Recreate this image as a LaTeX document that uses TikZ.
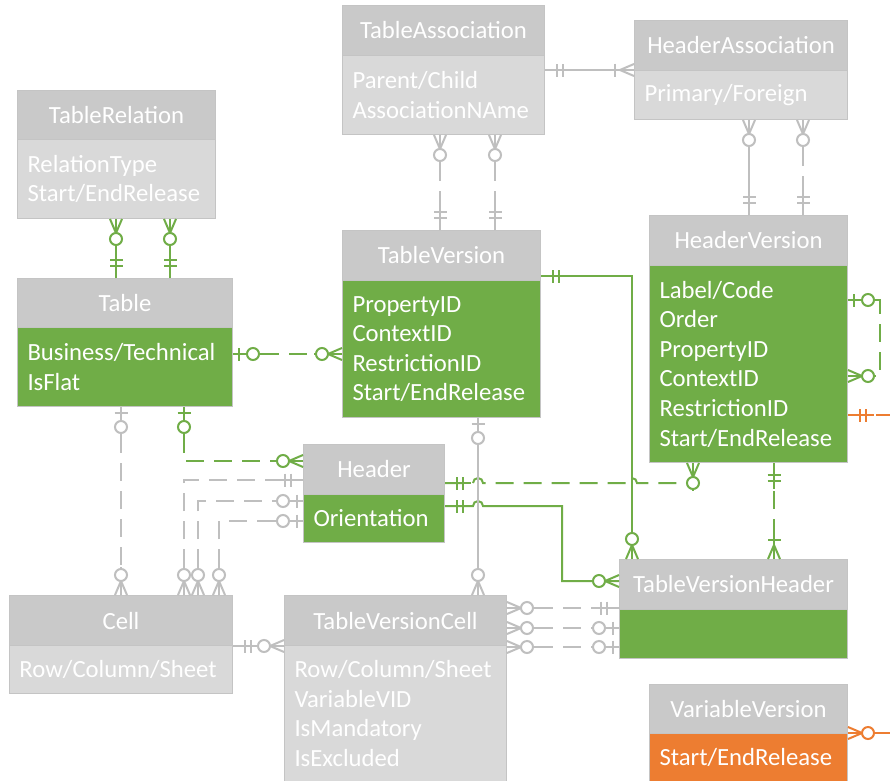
\documentclass[tikz,border=0pt]{standalone}
\usepackage{fontspec}
\setmainfont{Carlito}
\usetikzlibrary{calc}
\definecolor{grn}{HTML}{70AD47}
\definecolor{org}{HTML}{ED7D31}
\definecolor{hgray}{HTML}{C9C9C9}
\definecolor{bgray}{HTML}{D9D9D9}
\definecolor{lgr}{HTML}{BFBFBF}
\definecolor{bdr}{HTML}{C4C4C4}
\tikzset{
  erfont/.style={font=\fontsize{24.7}{29.6}\selectfont, text=white},
  hbox/.style={erfont, draw=bdr, line width=1pt, fill=hgray, inner sep=0pt},
  bbox/.style={erfont, draw=bdr, line width=1pt, inner xsep=10pt, inner ysep=0pt, align=left},
  gl/.style={draw=grn, line width=2pt},
  gy/.style={draw=lgr, line width=2pt},
  og/.style={draw=org, line width=2pt},
  dsh/.style={dash pattern=on 18pt off 10pt},
}
% entity: name, x1, ytop, x2, ymid, ybot, body colour, title, body lines
\newcommand\erEnt[9]{%
  \pgfmathsetmacro\erW{#4-#2}%
  \pgfmathsetmacro\erHa{#5-#3}%
  \pgfmathsetmacro\erHb{#6-#5}%
  \pgfmathsetmacro\erTW{#4-#2-20}%
  \node[hbox, minimum width=\erW pt, minimum height=\erHa pt, anchor=north west] (#1h) at (#2,#3) {#8};
  \node[bbox, fill=#7, minimum width=\erW pt, minimum height=\erHb pt, text width=\erTW pt, anchor=north west] (#1b) at (#2,#5) {#9};
}
% markers: style, point, direction away from the box
\newcommand\erZM[3]{\begin{scope}[shift={#2},rotate=#3]
  \draw[#1,solid] (0,0)--(28,0);
  \draw[#1,solid] (0,6)--(14,0)--(0,-6);
  \draw[#1,solid,fill=white] (20,0) circle[radius=6pt];
\end{scope}}
\newcommand\erOM[3]{\begin{scope}[shift={#2},rotate=#3]
  \draw[#1,solid] (0,0)--(28,0);
  \draw[#1,solid] (0,6)--(14,0)--(0,-6);
  \draw[#1,solid] (19,6.5)--(19,-6.5);
\end{scope}}
\newcommand\erZO[3]{\begin{scope}[shift={#2},rotate=#3]
  \draw[#1,solid] (0,0)--(28,0);
  \draw[#1,solid] (6,6.5)--(6,-6.5);
  \draw[#1,solid,fill=white] (20,0) circle[radius=6pt];
\end{scope}}
\newcommand\erOO[3]{\begin{scope}[shift={#2},rotate=#3]
  \draw[#1,solid] (0,0)--(26,0);
  \draw[#1,solid] (12,6.5)--(12,-6.5);
  \draw[#1,solid] (18,6.5)--(18,-6.5);
\end{scope}}
\begin{document}
\begin{tikzpicture}[x=1pt,y=-1pt]
\useasboundingbox (0,0) rectangle (890,780);
\fill[white] (0,0) rectangle (890,780);

% ---------- entities ----------
\erEnt{rel}{17}{90}{215}{139}{218}{bgray}{TableRelation}{RelationType\\Start/EndRelease}
\erEnt{tas}{342}{5}{544}{55}{134}{bgray}{TableAssociation}{Parent/Child\\AssociationNAme}
\erEnt{has}{634}{20}{847}{70}{119}{bgray}{HeaderAssociation}{Primary/Foreign}
\erEnt{tbl}{17}{278}{232}{327}{406}{grn}{Table}{Business/Technical\\IsFlat}
\erEnt{tvr}{342}{230}{540}{280}{417}{grn}{TableVersion}{PropertyID\\ContextID\\RestrictionID\\Start/EndRelease}
\erEnt{hvr}{649}{215}{847}{265}{462}{grn}{HeaderVersion}{Label/Code\\Order\\PropertyID\\ContextID\\RestrictionID\\Start/EndRelease}
\erEnt{hed}{303}{444}{444}{494}{542}{grn}{Header}{Orientation}
\erEnt{cel}{9}{595}{232}{645}{693}{bgray}{Cell}{Row/Column/Sheet}
\erEnt{tvc}{284}{595}{506}{645}{781}{bgray}{TableVersionCell}{Row/Column/Sheet\\VariableVID\\IsMandatory\\IsExcluded}
\erEnt{tvh}{619}{559}{847}{609}{658}{grn}{TableVersionHeader}{}
\erEnt{vvr}{649}{684}{847}{733}{781}{org}{VariableVersion}{Start/EndRelease}

\coordinate (oend1) at (892,415);
\coordinate (oend2) at (892,733);

% ---------- connectors ----------
% TableRelation - Table
\draw[gl] (116,0 |- relb.south) -- (116,0 |- tblh.north);
\draw[gl] (170,0 |- relb.south) -- (170,0 |- tblh.north);
% TableAssociation - TableVersion
\draw[gy,dsh] (440,0 |- tasb.south) -- (440,0 |- tvrh.north);
\draw[gy,dsh] (495,0 |- tasb.south) -- (495,0 |- tvrh.north);
% TableAssociation - HeaderAssociation
\draw[gy] (tasb.east |- hasb.north) -- (hasb.north west);
% HeaderAssociation - HeaderVersion
\draw[gy] (749,0 |- hasb.south) -- (749,0 |- hvrh.north);
\draw[gy,dsh] (803,0 |- hasb.south) -- (803,0 |- hvrh.north);
% Table - TableVersion
\draw[gl,dsh] (tblb.east |- 0,354) -- (tvrb.west |- 0,354);
% TableVersion - TableVersionHeader
\draw[gl] (tvrh.east |- 0,276) -| (632,0 |- tvhh.north);
% Header - TableVersionHeader
\draw[gl] (hedb.east |- 0,506) -- (473,506) arc[start angle=180,end angle=0,radius=5pt] -- (562,506) |- (tvhh.west |- 0,581);
% Header - HeaderVersion
\draw[gl,dsh] (hedh.east |- 0,483) -- (473,483) arc[start angle=180,end angle=0,radius=5pt] -- (627,483) arc[start angle=180,end angle=0,radius=5pt] -| (693,0 |- hvrb.south);
% TableVersion - TableVersionCell
\draw[gy] (478,0 |- tvrb.south) -- (478,0 |- tvch.north);
% HeaderVersion - TableVersionHeader
\draw[gl,dsh] (774,0 |- hvrb.south) -- (774,0 |- tvhh.north);
% HeaderVersion self relation
\draw[gl,dsh] (hvrb.east |- 0,300) -| (880,338) |- (hvrb.east |- 0,376);
% HeaderVersion orange
\draw[og,dsh] (hvrb.east |- 0,415) -- (oend1);
% VariableVersion orange
\draw[og] (vvrb.north east) -- (oend2);
% Cell - TableVersionCell
\draw[gy] (celh.south east) -- (tvch.south west);
% TableVersionCell - TableVersionHeader
\draw[gy,dsh] (tvch.east |- 0,608) -- (tvhh.west |- 0,608);
\draw[gy,dsh] (tvch.east |- 0,628) -- (tvhh.west |- 0,628);
\draw[gy,dsh] (tvch.east |- 0,647) -- (tvhh.west |- 0,647);
% Table - Cell
\draw[gy,dsh] (121,0 |- tblb.south) -- (121,0 |- celh.north);
% Table - Header
\draw[gl,dsh] (184,0 |- tblb.south) |- (hedh.west |- 0,461);
% Cell - Header
\draw[gy,dsh] (184,0 |- celh.north) |- (hedh.west |- 0,480);
\draw[gy,dsh] (198,0 |- celh.north) |- (hedb.west |- 0,501);
\draw[gy,dsh] (219,0 |- celh.north) |- (hedb.west |- 0,521);

% ---------- markers ----------
\erZM{gl}{(116,0 |- relb.south)}{270}
\erOO{gl}{(116,0 |- tblh.north)}{90}
\erZM{gl}{(170,0 |- relb.south)}{270}
\erOO{gl}{(170,0 |- tblh.north)}{90}
\erZM{gy}{(440,0 |- tasb.south)}{270}
\erOO{gy}{(440,0 |- tvrh.north)}{90}
\erZM{gy}{(495,0 |- tasb.south)}{270}
\erOO{gy}{(495,0 |- tvrh.north)}{90}
\erOO{gy}{(tasb.east |- hasb.north)}{0}
\erOM{gy}{(hasb.north west)}{180}
\erZM{gy}{(749,0 |- hasb.south)}{270}
\erOO{gy}{(749,0 |- hvrh.north)}{90}
\erZM{gy}{(803,0 |- hasb.south)}{270}
\erOO{gy}{(803,0 |- hvrh.north)}{90}
\erZO{gl}{(tblb.east |- 0,354)}{0}
\erZM{gl}{(tvrb.west |- 0,354)}{180}
\erOO{gl}{(tvrh.east |- 0,276)}{0}
\erZM{gl}{(632,0 |- tvhh.north)}{90}
\erOO{gl}{(hedb.east |- 0,506)}{0}
\erZM{gl}{(tvhh.west |- 0,581)}{180}
\erOO{gl}{(hedh.east |- 0,483)}{0}
\erZM{gl}{(693,0 |- hvrb.south)}{270}
\erZO{gy}{(478,0 |- tvrb.south)}{270}
\erZM{gy}{(478,0 |- tvch.north)}{90}
\erOO{gl}{(774,0 |- hvrb.south)}{270}
\erOM{gl}{(774,0 |- tvhh.north)}{90}
\erZO{gl}{(hvrb.east |- 0,300)}{0}
\erZM{gl}{(hvrb.east |- 0,376)}{0}
\erOO{og}{(hvrb.east |- 0,415)}{0}
\erZM{og}{(vvrb.north east)}{0}
\erOO{gy}{(celh.south east)}{0}
\erZM{gy}{(tvch.south west)}{180}
\erZM{gy}{(tvch.east |- 0,608)}{0}
\erOO{gy}{(tvhh.west |- 0,608)}{180}
\erZM{gy}{(tvch.east |- 0,628)}{0}
\erZO{gy}{(tvhh.west |- 0,628)}{180}
\erZM{gy}{(tvch.east |- 0,647)}{0}
\erZO{gy}{(tvhh.west |- 0,647)}{180}
\erZO{gy}{(121,0 |- tblb.south)}{270}
\erZM{gy}{(121,0 |- celh.north)}{90}
\erZO{gl}{(184,0 |- tblb.south)}{270}
\erZM{gl}{(hedh.west |- 0,461)}{180}
\erZM{gy}{(184,0 |- celh.north)}{90}
\erOO{gy}{(hedh.west |- 0,480)}{180}
\erZM{gy}{(198,0 |- celh.north)}{90}
\erZO{gy}{(hedb.west |- 0,501)}{180}
\erZM{gy}{(219,0 |- celh.north)}{90}
\erZO{gy}{(hedb.west |- 0,521)}{180}
\end{tikzpicture}
\end{document}
